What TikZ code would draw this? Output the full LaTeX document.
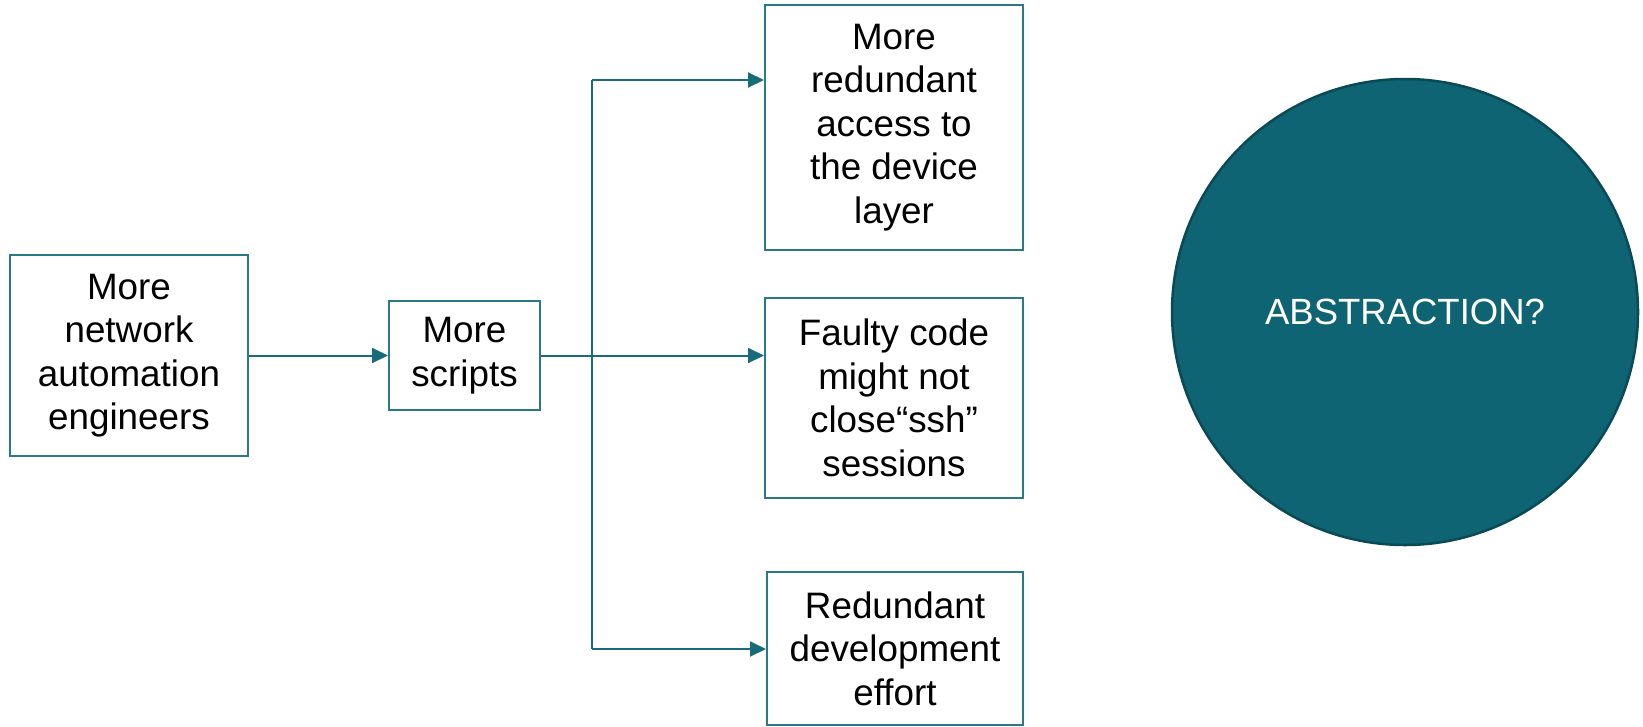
\documentclass[tikz,border=0pt]{standalone}
\usepackage{fontspec}
\setmainfont{Liberation Sans}
\usetikzlibrary{arrows.meta}
\definecolor{boxline}{HTML}{2A7986}
\definecolor{flowline}{HTML}{186C7A}
\definecolor{circfill}{HTML}{0E6472}
\definecolor{circline}{HTML}{0A4A56}
\begin{document}
\begin{tikzpicture}[x=1pt, y=-1pt,
    box/.style={draw=boxline, line width=2pt, align=center, inner sep=0pt,
                font=\fontsize{36.8}{43.5}\selectfont},
    flow/.style={draw=flowline, line width=2pt, -{Triangle[length=16pt,width=15pt]}},
    trunk/.style={draw=flowline, line width=2pt}]
    \useasboundingbox (0,0) rectangle (1643,726);
    \node(eng)     at ( 129,355.5) [box, minimum width=238pt, minimum height=201pt] {More\\network\\automation\\engineers};
    \node(scripts) at (464.5,355.5)[box, minimum width=151pt, minimum height=109pt] {More\\scripts};
    \node(access)  at ( 894,127.5) [box, minimum width=258pt, minimum height=245pt] {More\\redundant\\access to\\the device\\layer};
    \node(faulty)  at ( 894,398)   [box, minimum width=258pt, minimum height=200pt] {Faulty code\\might not\\close“ssh”\\sessions};
    \node(effort)  at ( 895,648.5) [box, minimum width=256pt, minimum height=153pt] {Redundant\\development\\effort};
    \node(abstr)   at (1405,312)   [circle, fill=circfill, draw=circline, line width=2.5pt, minimum size=466pt, inner sep=0pt, text=white, font=\fontsize{36.5}{44}\selectfont] {ABSTRACTION?};
    \coordinate(jtop) at (592,80);
    \coordinate(jbot) at (592,649);
    \draw[flow]  (eng.east) -- (scripts.west);
    \draw[flow]  (scripts.east) -- (scripts.east -| faulty.west);
    \draw[trunk] (jtop) -- (jbot);
    \draw[flow]  (jtop) -- (jtop -| access.west);
    \draw[flow]  (jbot) -- (jbot -| effort.west);
\end{tikzpicture}
\end{document}
